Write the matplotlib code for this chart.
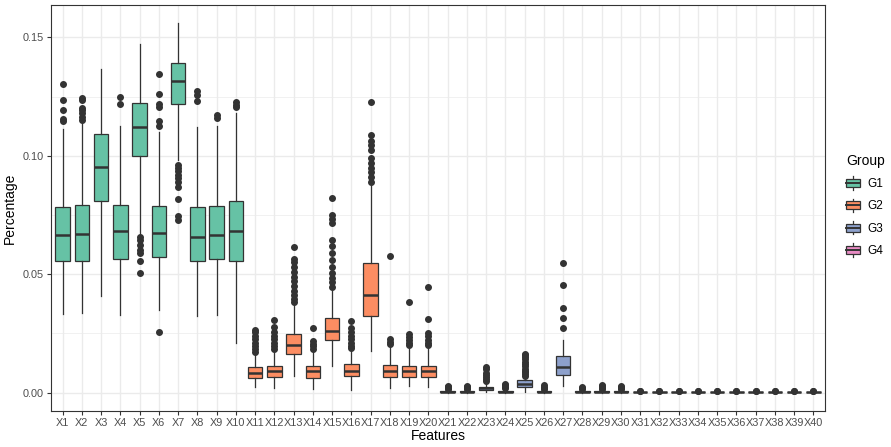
import matplotlib
matplotlib.use("Agg")
import matplotlib.pyplot as plt
from matplotlib.legend_handler import HandlerBase
from matplotlib.patches import Rectangle, Patch
from matplotlib.lines import Line2D
from matplotlib.ticker import MultipleLocator, FormatStrFormatter

plt.rcParams['font.family'] = ['Liberation Sans', 'DejaVu Sans']

# data
features = ["X%d" % i for i in range(1, 41)]
groups = ["G1"] * 10 + ["G2"] * 10 + ["G3"] * 10 + ["G4"] * 10
group_names = ["G1", "G2", "G3", "G4"]
group_colors = {"G1": "#66C2A5", "G2": "#FC8D62", "G3": "#8DA0CB", "G4": "#E78AC3"}

q1 = [0.0555, 0.0555, 0.0811, 0.0565, 0.1000, 0.0573, 0.1220, 0.0555, 0.0564, 0.0555,
      0.0062, 0.0065, 0.0161, 0.0061, 0.0223, 0.0068, 0.0325, 0.0064, 0.0065, 0.0064,
      0.0002, 0.0002, 0.0011, 0.0001, 0.0023, 0.0002, 0.0073, 0.0002, 0.0002, 0.0002,
      0.00005, 0.00005, 0.00005, 0.00005, 0.00005, 0.00005, 0.00005, 0.00005, 0.00005, 0.00005]
med = [0.0667, 0.0669, 0.0953, 0.0682, 0.1123, 0.0672, 0.1315, 0.0657, 0.0665, 0.0682,
       0.0082, 0.0093, 0.0199, 0.0089, 0.0258, 0.0093, 0.0410, 0.0090, 0.0090, 0.0089,
       0.0004, 0.0004, 0.0018, 0.0004, 0.0037, 0.0004, 0.0107, 0.0004, 0.0004, 0.0004,
       0.0001, 0.0001, 0.0001, 0.0001, 0.0001, 0.0001, 0.0001, 0.0001, 0.0001, 0.0001]
q3 = [0.0783, 0.0791, 0.1092, 0.0792, 0.1225, 0.0787, 0.1391, 0.0785, 0.0789, 0.0811,
      0.0107, 0.0111, 0.0249, 0.0111, 0.0315, 0.0119, 0.0548, 0.0117, 0.0111, 0.0111,
      0.0007, 0.0007, 0.0025, 0.0007, 0.0051, 0.0007, 0.0153, 0.0007, 0.0007, 0.0007,
      0.0002, 0.0002, 0.0002, 0.0002, 0.0002, 0.0002, 0.0002, 0.0002, 0.0002, 0.0002]
whis_lo = [0.0333, 0.0336, 0.0407, 0.0329, 0.0665, 0.0350, 0.0983, 0.0325, 0.0329, 0.0211,
           0.0023, 0.0018, 0.0069, 0.0013, 0.0114, 0.0011, 0.0175, 0.0020, 0.0027, 0.0023,
           0.0, 0.0, 0.0002, 0.0, 0.0003, 0.0, 0.0027, 0.0, 0.0, 0.0,
           0.0, 0.0, 0.0, 0.0, 0.0, 0.0, 0.0, 0.0, 0.0, 0.0]
whis_hi = [0.1113, 0.1138, 0.1367, 0.1124, 0.1473, 0.1100, 0.1559, 0.1120, 0.1125, 0.1181,
           0.0164, 0.0178, 0.0369, 0.0178, 0.0446, 0.0185, 0.0884, 0.0199, 0.0195, 0.0199,
           0.0013, 0.0013, 0.0045, 0.0016, 0.0065, 0.0013, 0.0223, 0.0012, 0.0014, 0.0013,
           0.0004, 0.0004, 0.0004, 0.0004, 0.0004, 0.0004, 0.0004, 0.0004, 0.0004, 0.0004]

outliers = [
    [0.1305, 0.1234, 0.1192, 0.1154, 0.1145],
    [0.1244, 0.1237, 0.1202, 0.1195, 0.1181, 0.1165, 0.1153],
    [],
    [0.1249, 0.1219],
    [0.0658, 0.0644, 0.0623, 0.0602, 0.0588, 0.0555, 0.0507],
    [0.1347, 0.1263, 0.1220, 0.1207, 0.1145, 0.1127, 0.0256],
    [0.0962, 0.0950, 0.0935, 0.0920, 0.0905, 0.0890, 0.0870, 0.0818, 0.0744, 0.0727],
    [0.1275, 0.1258, 0.1230],
    [0.1174, 0.1160],
    [0.1226, 0.1215, 0.1206],
    [0.0266, 0.0255, 0.0240, 0.0225, 0.0210, 0.0195, 0.0182, 0.0171],
    [0.0305, 0.0277, 0.0254, 0.0240, 0.0225, 0.0210, 0.0196, 0.0183],
    [0.0616, 0.0566, 0.0550, 0.0530, 0.0510, 0.0490, 0.0470, 0.0450, 0.0430, 0.0410, 0.0395, 0.0383],
    [0.0271, 0.0216, 0.0205, 0.0195, 0.0183],
    [0.0822, 0.0750, 0.0733, 0.0716, 0.0644, 0.0620, 0.0590, 0.0560, 0.0530, 0.0505, 0.0485, 0.0465, 0.0446],
    [0.0302, 0.0272, 0.0255, 0.0240, 0.0225, 0.0210, 0.0198, 0.0189],
    [0.1228, 0.1089, 0.1061, 0.1045, 0.1023, 0.0990, 0.0970, 0.0950, 0.0930, 0.0910, 0.0891],
    [0.0576, 0.0227, 0.0215, 0.0206],
    [0.0383, 0.0249, 0.0235, 0.0222, 0.0210, 0.0199],
    [0.0445, 0.0309, 0.0253, 0.0237, 0.0220, 0.0208, 0.0199],
    [0.0016, 0.0019, 0.0022, 0.0025, 0.0028],
    [0.0016, 0.0019, 0.0022, 0.0025, 0.0028],
    [0.0050, 0.0058, 0.0066, 0.0075, 0.0083, 0.0098, 0.0107],
    [0.0020, 0.0025, 0.0030, 0.0035],
    [0.0070, 0.0078, 0.0085, 0.0093, 0.0100, 0.0110, 0.0120, 0.0130, 0.0140, 0.0150, 0.0158, 0.0164],
    [0.0016, 0.0020, 0.0025, 0.0030],
    [0.0548, 0.0453, 0.0355, 0.0316, 0.0272],
    [0.0015, 0.0019, 0.0023],
    [0.0017, 0.0021, 0.0026, 0.0030],
    [0.0016, 0.0020, 0.0025, 0.0029],
    [0.0005, 0.0007], [0.0005, 0.0007], [0.0005, 0.0007], [0.0005, 0.0007], [0.0005, 0.0007],
    [0.0005, 0.0007], [0.0005, 0.0008], [0.0005, 0.0007], [0.0005, 0.0007], [0.0005, 0.0007],
]

dark = "#333333"
grid_col = "#EBEBEB"

fig = plt.figure(figsize=(8.91, 4.47), dpi=100)
ax = fig.add_axes([51 / 891, 1 - 411 / 447, 774 / 891, 406 / 447])

stats = []
for i in range(len(features)):
    stats.append(dict(med=med[i], q1=q1[i], q3=q3[i], whislo=whis_lo[i],
                      whishi=whis_hi[i], fliers=outliers[i], label=features[i]))

pos = list(range(1, len(features) + 1))
bp = ax.bxp(stats, positions=pos, widths=0.75, patch_artist=True, showcaps=False,
            boxprops=dict(edgecolor=dark, linewidth=0.9),
            whiskerprops=dict(color=dark, linewidth=0.9),
            medianprops=dict(color=dark, linewidth=1.8),
            flierprops=dict(marker="o", markerfacecolor=dark, markeredgecolor=dark,
                            markersize=4, linestyle="none"),
            zorder=3)
for patch, g in zip(bp["boxes"], groups):
    patch.set_facecolor(group_colors[g])

ax.set_xlim(0.4, 40.6)
ax.set_ylim(-0.0078, 0.1637)
ax.set_xticks(pos)
ax.set_xticklabels(features)
ax.yaxis.set_major_locator(MultipleLocator(0.05))
ax.yaxis.set_minor_locator(MultipleLocator(0.025))
ax.yaxis.set_major_formatter(FormatStrFormatter("%.2f"))

ax.grid(True, which="major", color=grid_col, linewidth=1.0, zorder=0)
ax.grid(True, which="minor", axis="y", color=grid_col, linewidth=0.5, zorder=0)
ax.set_axisbelow(True)
ax.tick_params(axis="both", which="major", direction="out", length=3, width=0.8,
               color=dark, labelcolor="#4D4D4D", labelsize=7.8, pad=2)
ax.tick_params(axis="y", which="minor", length=0)
for s in ax.spines.values():
    s.set_color(dark)
    s.set_linewidth(0.8)

ax.set_xlabel("Features", fontsize=10, color="black", labelpad=1)
ax.set_ylabel("Percentage", fontsize=10, color="black", labelpad=4)


# legend key drawn like a small boxplot
class BoxKey(HandlerBase):
    def create_artists(self, legend, orig_handle, xdescent, ydescent, width, height, fontsize, trans):
        cx = -xdescent + width / 2
        bw = width
        bh = height * 0.6
        by = -ydescent + (height - bh) / 2
        rect = Rectangle((cx - bw / 2, by), bw, bh, facecolor=orig_handle.get_facecolor(),
                         edgecolor=dark, linewidth=0.9, transform=trans)
        med_line = Line2D([cx - bw / 2, cx + bw / 2], [by + bh / 2] * 2, color=dark,
                          linewidth=1.4, transform=trans)
        w1 = Line2D([cx, cx], [-ydescent, by], color=dark, linewidth=0.9, transform=trans)
        w2 = Line2D([cx, cx], [by + bh, -ydescent + height], color=dark, linewidth=0.9, transform=trans)
        return [w1, w2, rect, med_line]


handles = [Patch(facecolor=group_colors[g]) for g in group_names]
leg = fig.legend(handles, group_names, handler_map={Patch: BoxKey()}, title="Group",
                 loc="upper left", bbox_to_anchor=(846 / 891, 1 - 154 / 447),
                 frameon=False, fontsize=8.5, title_fontsize=10,
                 handlelength=1.15, handleheight=1.4, handletextpad=0.7,
                 labelspacing=0.72, borderaxespad=0, borderpad=0)
leg._legend_box.align = "left"
leg._legend_box.sep = 6

fig.savefig("out.png", dpi=100)
